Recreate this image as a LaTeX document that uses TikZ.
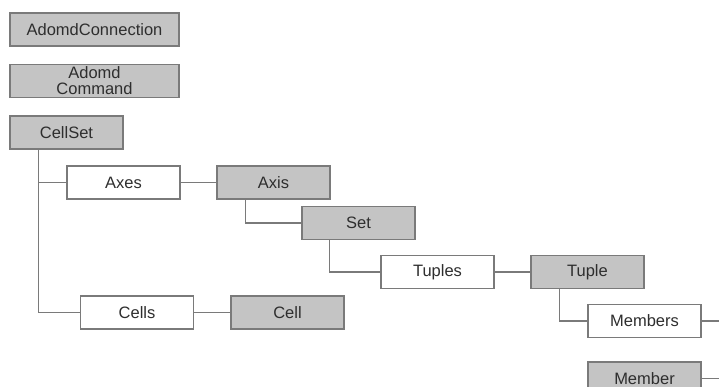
\documentclass[tikz,border=0pt]{standalone}
\usepackage{fontspec}
\setmainfont{Liberation Sans}
\definecolor{boxgray}{HTML}{C4C4C4}
\definecolor{edgegray}{HTML}{7A7A7A}
\definecolor{txt}{HTML}{2E2E2E}
\begin{document}
\begin{tikzpicture}[x=1pt,y=-1pt,
  box/.style={draw=edgegray,line width=1.1pt,rectangle,inner sep=0pt,minimum width=113pt,minimum height=33pt,font=\fontsize{16.5}{16.5}\selectfont,text=txt,align=center},
  dark/.style={box,fill=boxgray},
  light/.style={box,fill=white},
  wide/.style={minimum width=169pt},
  link/.style={draw=edgegray,line width=1.1pt}]
\useasboundingbox (0,0) rectangle (719,387);
\clip (0,0) rectangle (719,387);
\node[dark,wide] (conn) at (94.5,29.5) {AdomdConnection};
\node[dark,wide] (cmd) at (94.5,81) {\fontsize{16.5}{16.5}\selectfont Adomd\\[-0.5pt]Command};
\node[dark] (cellset) at (66.5,132.5) {CellSet};
\node[light] (axes) at (123.5,182.5) {Axes};
\node[dark] (axis) at (273.5,182.5) {Axis};
\node[dark] (set) at (358.5,223) {Set};
\node[light] (tuples) at (437.5,272) {Tuples};
\node[dark] (tuple) at (587.5,272) {Tuple};
\node[light] (members) at (644.5,321) {Members};
\node[dark] (member) at (644.5,378.5) {Member};
\node[light] (cells) at (137,312.5) {Cells};
\node[dark] (cell) at (287.5,312.5) {Cell};
\coordinate (e1) at (725,321);
\coordinate (e2) at (725,378.5);
\draw[link] ([xshift=29pt]cellset.south west) |- (axes.west);
\draw[link] ([xshift=29pt]cellset.south west) |- (cells.west);
\draw[link] (axes) -- (axis);
\draw[link] (cells) -- (cell);
\draw[link] ([xshift=29pt]axis.south west) |- (set.west);
\draw[link] ([xshift=28pt]set.south west) |- (tuples.west);
\draw[link] (tuples) -- (tuple);
\draw[link] ([xshift=29pt]tuple.south west) |- (members.west);
\draw[link] (members) -- (e1);
\draw[link] (member) -- (e2);
\end{tikzpicture}
\end{document}
